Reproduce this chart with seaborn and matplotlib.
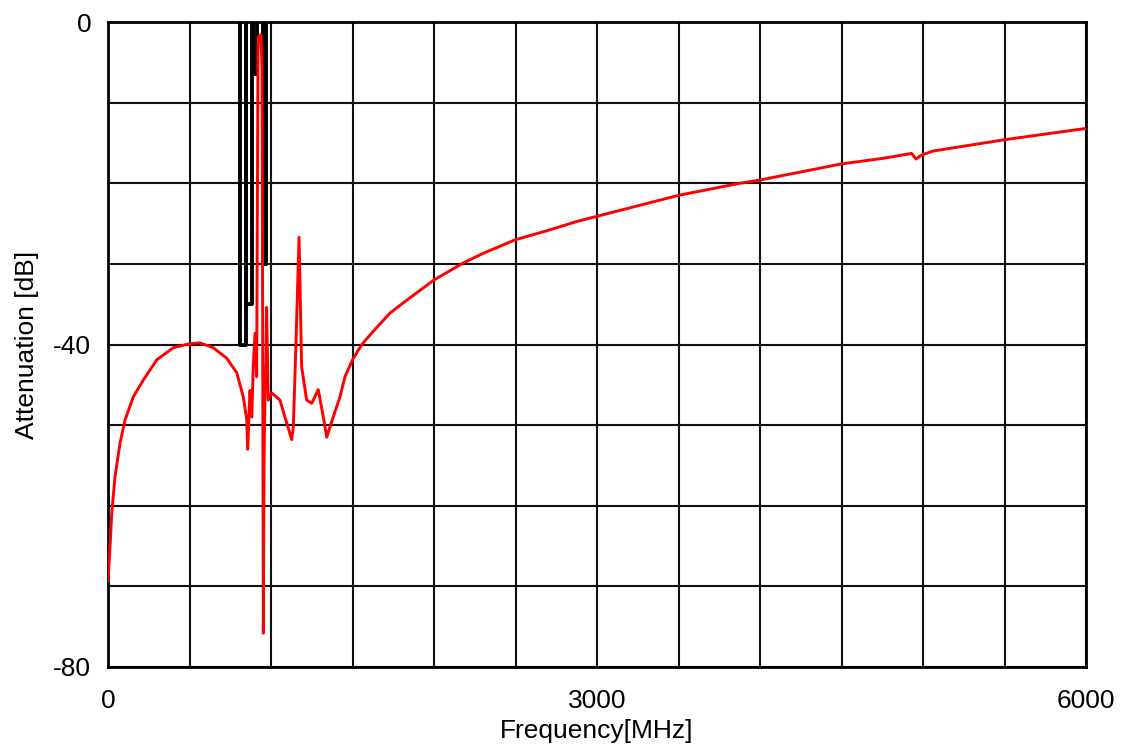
import matplotlib
matplotlib.use("Agg")
import matplotlib.pyplot as plt
import seaborn as sns
import pandas as pd

freq_mhz = [0, 10, 23, 43, 74, 104, 155, 217, 299, 401, 500, 564, 646, 728, 790,
            830, 851, 857, 871, 882, 891, 902, 912, 917, 920, 923, 931, 939, 945,
            948, 953, 957, 963, 969, 973, 983, 1004, 1055, 1096, 1127, 1137, 1153,
            1172, 1188, 1219, 1250, 1290, 1321, 1342, 1362, 1423, 1454, 1500, 1557,
            1626, 1730, 1833, 2000, 2178, 2301, 2500, 2691, 2884, 3000, 3500, 3877,
            4000, 4500, 4758, 4930, 4957, 4992, 5063, 5500, 6000]
atten_db = [-69.4, -66.0, -60.9, -56.4, -52.2, -49.4, -46.5, -44.4, -41.9, -40.4,
            -39.9, -39.8, -40.4, -41.7, -43.5, -46.5, -49.3, -53.0, -45.7, -49.0,
            -42.8, -38.6, -44.0, -20.0, -4.0, -1.8, -1.7, -1.6, -6.0, -30.0, -75.8,
            -55.0, -46.0, -42.0, -35.4, -46.9, -46.0, -46.9, -49.7, -51.8, -50.2,
            -40.0, -26.7, -42.8, -46.9, -47.3, -45.6, -49.0, -51.5, -50.2, -46.5,
            -44.0, -41.9, -40.0, -38.4, -36.1, -34.5, -32.0, -29.9, -28.7, -27.0,
            -25.9, -24.7, -24.1, -21.5, -20.0, -19.6, -17.6, -16.9, -16.3, -17.0,
            -16.5, -16.0, -14.6, -13.2]

# spec mask boxes
mask_a_f = [812, 812, 845, 845]
mask_a_db = [0, -40, -40, 0]
mask_b_f = [849, 849, 884, 884]
mask_b_db = [0, -35, -35, 0]
mask_c_f = [890, 890, 917, 917]
mask_c_db = [0, -6.5, -6.5, 0]
mask_d_f = [951, 951, 969, 969]
mask_d_db = [0, -30, -30, 0]

x_ticks = [0, 3000, 6000]
y_ticks = [-80, -40, 0]

sns.set_style("white")
plt.rcParams['font.family'] = ['Liberation Sans', 'DejaVu Sans']
plt.rcParams['axes.unicode_minus'] = False

fig = plt.figure(figsize=(11.34, 7.5), dpi=100)
ax = fig.add_axes([108 / 1134, 83 / 750, 978 / 1134, 645 / 750])

for mf, md in [(mask_a_f, mask_a_db), (mask_b_f, mask_b_db),
               (mask_c_f, mask_c_db), (mask_d_f, mask_d_db)]:
    sns.lineplot(x=mf, y=md, sort=False, estimator=None, color='black',
                 linewidth=2.8, ax=ax, zorder=3)

curve = pd.DataFrame({'f': freq_mhz, 'a': atten_db})
sns.lineplot(data=curve, x='f', y='a', sort=False, estimator=None,
             color='red', linewidth=2.1, ax=ax, zorder=4)

ax.set_xlim(0, 6000)
ax.set_ylim(-80, 0)
ax.set_xticks(x_ticks)
ax.set_yticks(y_ticks)
ax.set_xticks(range(0, 6001, 500), minor=True)
ax.set_yticks(range(-80, 1, 10), minor=True)
ax.grid(True, which='both', color='#111111', linewidth=1.5)
ax.tick_params(which='both', length=0, labelsize=19, colors='black')
ax.tick_params(axis='x', pad=16)
ax.tick_params(axis='y', pad=12)
for s in ax.spines.values():
    s.set_color('black')
    s.set_linewidth(2)

ax.set_xlabel('Frequency[MHz]', fontsize=19, labelpad=4, color='black')
ax.set_ylabel('Attenuation [dB]', fontsize=19, labelpad=10, color='black')

fig.savefig('out.png', dpi=100)
